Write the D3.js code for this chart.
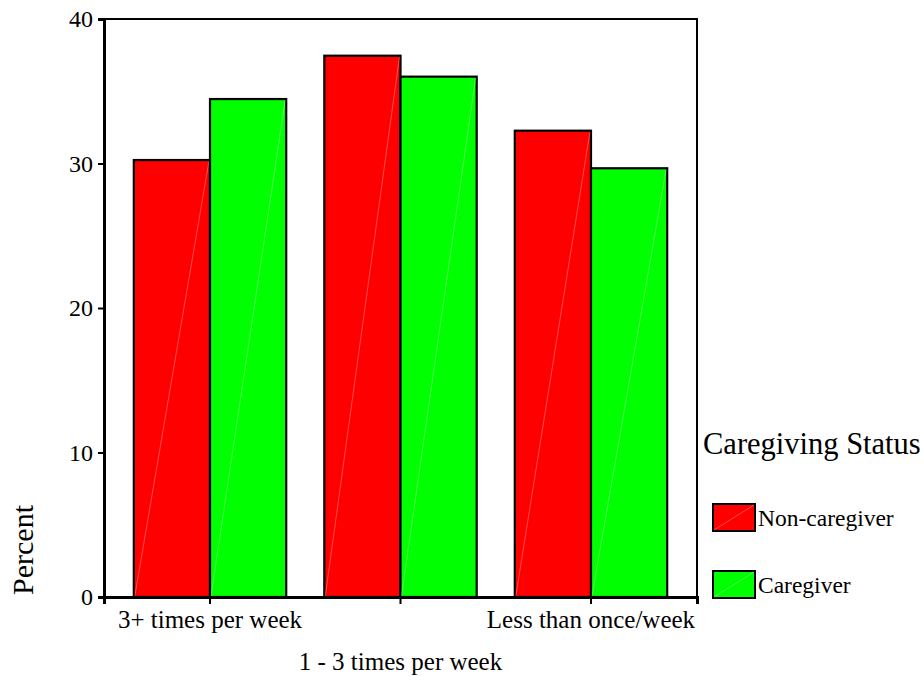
<!DOCTYPE html>
<html>
<head>
<meta charset="utf-8">
<script src="https://cdn.jsdelivr.net/npm/d3@7"></script>
<style>
  html, body { margin: 0; padding: 0; background: #fff; }
  svg { display: block; font-family: "Liberation Serif", "Times New Roman", serif; }
</style>
</head>
<body>
<svg id="chart" width="924" height="677"></svg>
<script>
const categories = ["3+ times per week", "1 - 3 times per week", "Less than once/week"];
const seriesNames = ["Non-caregiver", "Caregiver"];
const nonCaregiver = [30.24, 37.46, 32.27];
const caregiver = [34.46, 36.01, 29.67];
const yTicks = [0, 10, 20, 30, 40];
const colors = ["#ff0000", "#00ff00"];
const legendTitle = "Caregiving Status";
const yTitle = "Percent";

const seriesValues = [nonCaregiver, caregiver];
const svg = d3.select("#chart");

const plot = { left: 104, right: 697, top: 19, bottom: 597 };

const x = d3.scaleBand().domain(categories)
  .range([plot.left, plot.right]).paddingInner(0.2).paddingOuter(0.1565).align(0.5);
const xs = d3.scaleBand().domain(seriesNames).range([0, x.bandwidth()]).padding(0);
const y = d3.scaleLinear().domain([0, 40]).range([plot.bottom, plot.top]);

// frame
svg.append("rect")
  .attr("x", plot.left).attr("y", plot.top)
  .attr("width", plot.right - plot.left).attr("height", plot.bottom - plot.top)
  .attr("fill", "none").attr("stroke", "#000").attr("stroke-width", 2);

// bars
const data = [];
categories.forEach((c, i) => {
  seriesNames.forEach((s, j) => data.push({ cat: c, ser: s, val: seriesValues[j][i], color: colors[j] }));
});

const g = svg.append("g");
const bars = g.selectAll("g.bar").data(data).join("g").attr("class", "bar");
bars.append("rect")
  .attr("x", d => x(d.cat) + xs(d.ser))
  .attr("y", d => y(d.val))
  .attr("width", xs.bandwidth())
  .attr("height", d => y(0) - y(d.val))
  .attr("fill", d => d.color)
  .attr("stroke", "#000").attr("stroke-width", 2.2);
bars.append("line")
  .attr("x1", d => x(d.cat) + xs(d.ser) + 1)
  .attr("y1", y(0) - 1)
  .attr("x2", d => x(d.cat) + xs(d.ser) + xs.bandwidth() - 1)
  .attr("y2", d => y(d.val) + 1)
  .attr("stroke", "#fff").attr("stroke-opacity", 0.3).attr("stroke-width", 1);

// y axis
const yAxis = d3.axisLeft(y).tickValues(yTicks).tickSize(6).tickPadding(5).tickFormat(d3.format("d"));
const ya = svg.append("g").attr("transform", `translate(${plot.left},0)`).call(yAxis);
ya.select(".domain").attr("stroke", "#000").attr("stroke-width", 3);
ya.selectAll(".tick line").attr("stroke", "#000").attr("stroke-width", 2);
ya.selectAll(".tick text").attr("font-size", 24).attr("fill", "#000")
  .attr("font-family", "Liberation Serif, Times New Roman, serif");

// x axis
const xAxis = d3.axisBottom(x).tickSize(7).tickPadding(0).tickFormat("");
const xa = svg.append("g").attr("transform", `translate(0,${plot.bottom})`).call(xAxis);
xa.select(".domain").attr("stroke", "#000").attr("stroke-width", 3);
xa.selectAll(".tick line").attr("stroke", "#000").attr("stroke-width", 2);

// x labels (staggered)
svg.append("g").selectAll("text").data(categories).join("text")
  .attr("x", d => x(d) + x.bandwidth() / 2)
  .attr("y", (d, i) => i === 1 ? 670 : 628)
  .attr("text-anchor", "middle")
  .attr("font-size", 25)
  .attr("fill", "#000")
  .text(d => d);

// y title
svg.append("text")
  .attr("transform", "translate(33,550) rotate(-90)")
  .attr("text-anchor", "middle")
  .attr("font-size", 30)
  .attr("fill", "#000")
  .text(yTitle);

// legend
const lg = svg.append("g");
lg.append("text").attr("x", 703).attr("y", 454)
  .attr("font-size", 30.5).attr("fill", "#000").text(legendTitle);
const items = lg.selectAll("g.item").data(seriesNames).join("g").attr("class", "item")
  .attr("transform", (d, i) => `translate(713,${504 + i * 67})`);
items.append("rect").attr("width", 42).attr("height", 27)
  .attr("fill", (d, i) => colors[i]).attr("stroke", "#000").attr("stroke-width", 2);
items.append("line").attr("x1", 1).attr("y1", 26).attr("x2", 41).attr("y2", 1)
  .attr("stroke", "#fff").attr("stroke-opacity", 0.3).attr("stroke-width", 1);
items.append("text").attr("x", 45).attr("y", 22)
  .attr("font-size", 23.5).attr("fill", "#000").text(d => d);
</script>
</body>
</html>
